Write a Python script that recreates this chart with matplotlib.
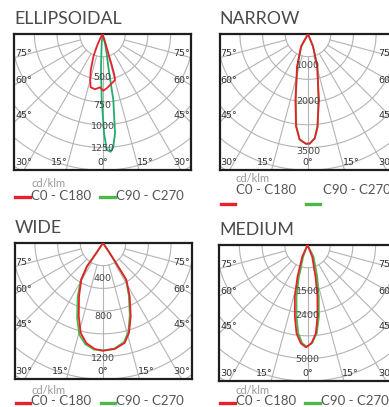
import numpy as np
import matplotlib.pyplot as plt
from matplotlib.lines import Line2D

W, H = 389, 407
RED = '#e5222b'
GREEN = '#4cb848'
TEAL = '#23ad6c'
GRID = '#b4b4b4'

# angles in degrees from nadir (negative = C180 / C270 side), intensities in cd/klm
ELL_ANG_C0 = [-30, -27, -24.5, -22, -18, -15, -12.5, -7.7, -2.7, 0.8, 4.4, 10.6, 15.2, 16.1, 16.5, 16.7, 18, 22]
ELL_CD_C0 = [0, 60, 154, 270, 417, 525, 601, 614, 588, 624, 600, 553, 525, 470, 356, 222, 88, 0]
ELL_ANG_C90 = [-12, -5, -2.6, -0.7, 0.9, 2.1, 4, 5.5, 7.2, 9.3, 10, 12.5, 15, 20]
ELL_CD_C90 = [0, 102, 360, 727, 1093, 1277, 1300, 1244, 1100, 738, 374, 200, 106, 0]

NAR_ANG_C0 = [-35, -29, -18.5, -10.8, -7.4, -4.6, -1.2, 0.9, 3.7, 5.9, 9.3, 16, 22, 30]
NAR_CD_C0 = [0, 430, 1040, 2010, 2790, 3170, 3290, 3290, 3140, 2800, 2000, 1010, 400, 0]
NAR_ANG_C90 = [-35, -28.6, -18.3, -10.6, -7.2, -4.5, -1.2, 0.9, 3.7, 5.8, 9.2, 16, 22, 30]
NAR_CD_C90 = [0, 420, 1020, 2004, 2790, 3180, 3291, 3291, 3126, 2784, 1998, 1008, 399, 0]

WID_ANG_C0 = [-34, -33.7, -34.5, -30.6, -24.2, -18.3, -13.9, -9.5, -4.5, 0, 6.3, 12.2, 16.1, 20.7, 26.6, 32.4, 32.8, 33.7, 34]
WID_CD_C0 = [0, 127, 299, 450, 618, 816, 980, 1072, 1124, 1138, 1127, 1081, 990, 829, 630, 460, 293, 127, 0]
WID_ANG_C90 = [-34, -33.7, -34.5, -31, -25, -19, -14.5, -10, -4.8, 0, 6.3, 12, 16, 20.5, 26.3, 32.2, 32.8, 33.7, 34]
WID_CD_C90 = [0, 127, 299, 455, 635, 840, 1000, 1085, 1130, 1138, 1122, 1070, 975, 810, 615, 455, 293, 127, 0]

MED_ANG_C0 = [-30, -24.4, -17.5, -13.8, -10, -7.1, -3.9, -0.9, 2.3, 5.4, 7.9, 10.9, 14.2, 21.9, 28]
MED_CD_C0 = [0, 422, 1096, 1756, 2402, 2937, 3251, 3376, 3247, 2927, 2389, 1739, 1079, 416, 0]
MED_ANG_C90 = [-26, -20.3, -15.3, -12, -8.7, -6, -3.1, -0.4, 2.8, 6, 9, 12.3, 17, 27.2, 33]
MED_CD_C90 = [0, 413, 1086, 1746, 2393, 2930, 3247, 3356, 3227, 2930, 2396, 1746, 1092, 432, 0]

ANGLE_TICKS = [15, 30, 45, 60, 75]

# legend rows (pixel y of unit text, series text, key lines); 'below' puts keys under the text
PANELS = [
    dict(title='ELLIPSOIDAL', box=(14, 34), cd_px=11.01,
         c0=(ELL_ANG_C0, ELL_CD_C0), c90=(ELL_ANG_C90, ELL_CD_C90), c90_color=TEAL,
         labels=['500', '750', '1000', '1250'], label_r=[484, 782, 1013, 1266],
         legend='row', leg_y=(184, 196, 197)),
    dict(title='NARROW', box=(219.5, 34), cd_px=30.0,
         c0=(NAR_ANG_C0, NAR_CD_C0), c90=(NAR_ANG_C90, NAR_CD_C90), c90_color=GREEN,
         labels=['1000', '2000', '3500'], label_r=[960, 2040, 3540],
         legend='below', leg_y=(178.5, 190, 204)),
    dict(title='WIDE', box=(14.5, 243), cd_px=10.57,
         c0=(WID_ANG_C0, WID_CD_C0), c90=(WID_ANG_C90, WID_CD_C90), c90_color=GREEN,
         labels=['400', '800', '1200'], label_r=[370, 782, 1216],
         legend='row', leg_y=(390, 401, 403)),
    dict(title='MEDIUM', box=(219, 245), cd_px=33.0,
         c0=(MED_ANG_C0, MED_CD_C0), c90=(MED_ANG_C90, MED_CD_C90), c90_color=GREEN,
         labels=['1500', '2400', '5000'], label_r=[1518, 2310, 3795],
         legend='row', leg_y=(390, 401, 403)),
]

BOX_W, BOX_H = 177, 136
RING_PX = 22.7


def fx(x):
    return x / W


def fy(y):
    return 1 - y / H


def polar_xy(ang, cd):
    a = np.radians(np.asarray(ang, dtype=float))
    r = np.asarray(cd, dtype=float)
    return r * np.sin(a), -r * np.cos(a)


def draw_grid(ax, s):
    half_w = BOX_W / 2 * s
    depth = BOX_H * s
    t = np.linspace(-np.pi / 2, np.pi / 2, 200)
    for k in range(1, 8):
        r = k * RING_PX * s
        ax.plot(r * np.sin(t), -r * np.cos(t), color=GRID, lw=0.8, zorder=1)
    r0, r1 = RING_PX * s, 10 * RING_PX * s
    for a in [0] + ANGLE_TICKS + [-v for v in ANGLE_TICKS]:
        ar = np.radians(a)
        ax.plot([r0 * np.sin(ar), r1 * np.sin(ar)], [-r0 * np.cos(ar), -r1 * np.cos(ar)],
                color=GRID, lw=0.8, zorder=1)

    # angle labels along the frame
    lab = dict(fontsize=6.8, color='#333333', zorder=5, family='DejaVu Sans')
    for a in ANGLE_TICKS + [0]:
        d = np.radians(a + 2.5) if a else 0
        dx_edge = depth * np.tan(d)
        for side in ([-1, 1] if a else [1]):
            if a >= 45:
                y = -half_w / np.tan(d)
                x = side * (half_w - 1.2 * s)
                ax.text(x, y, f'{a}°', ha='left' if side < 0 else 'right', va='center', **lab)
            else:
                x = side * dx_edge
                ha = 'center'
                if abs(x) > half_w - 9 * s:
                    x = side * (half_w - 1.2 * s)
                    ha = 'left' if side < 0 else 'right'
                ax.text(x, -depth + 3 * s, f'{a}°', ha=ha, va='bottom', **lab)


fig = plt.figure(figsize=(W / 100, H / 100), dpi=100)

for p in PANELS:
    bx, by = p['box']
    s = p['cd_px']
    ax = fig.add_axes([fx(bx), fy(by + BOX_H), BOX_W / W, BOX_H / H])
    ax.set_xlim(-BOX_W / 2 * s, BOX_W / 2 * s)
    ax.set_ylim(-BOX_H * s, 0)
    ax.set_xticks([])
    ax.set_yticks([])
    for sp in ax.spines.values():
        sp.set_linewidth(1.6)
        sp.set_color('#1e1e1e')

    draw_grid(ax, s)

    x, y = polar_xy(*p['c90'])
    ax.plot(x, y, color=p['c90_color'], lw=1.3, zorder=3)
    x, y = polar_xy(*p['c0'])
    ax.plot(x, y, color=RED, lw=1.3, zorder=3)

    for txt, r in zip(p['labels'], p['label_r']):
        ax.text(0, -r, txt, ha='center', va='center', fontsize=6.8, color='#444444',
                family='DejaVu Sans', zorder=6)

    # title
    fig.text(fx(bx), fy(by - 15), p['title'], fontsize=12.8, color='#4a4a4a',
             family='Lato', va='center', ha='left')

    # legend
    lt = dict(family='Lato', va='center', ha='left')
    y_unit, y_txt, y_key = p['leg_y']
    if p['legend'] == 'row':
        tx0, tx1 = bx + 17, bx + 102
    else:
        tx0, tx1 = bx + 16.5, bx + 103.5
    fig.text(fx(tx0), fy(y_unit), 'cd/klm', fontsize=8, color='#9a9a9a', **lt)
    fig.text(fx(tx0), fy(y_txt), 'C0 - C180', fontsize=9.5, color='#555555', **lt)
    fig.text(fx(tx1), fy(y_txt), 'C90 - C270', fontsize=9.5, color='#555555', **lt)
    fig.add_artist(Line2D([fx(bx + 1), fx(bx + 15.5)], [fy(y_key)] * 2, color=RED, lw=2.4))
    fig.add_artist(Line2D([fx(bx + 86), fx(bx + 100.5)], [fy(y_key)] * 2, color=GREEN, lw=2.4))

fig.savefig('out.png', dpi=100)
